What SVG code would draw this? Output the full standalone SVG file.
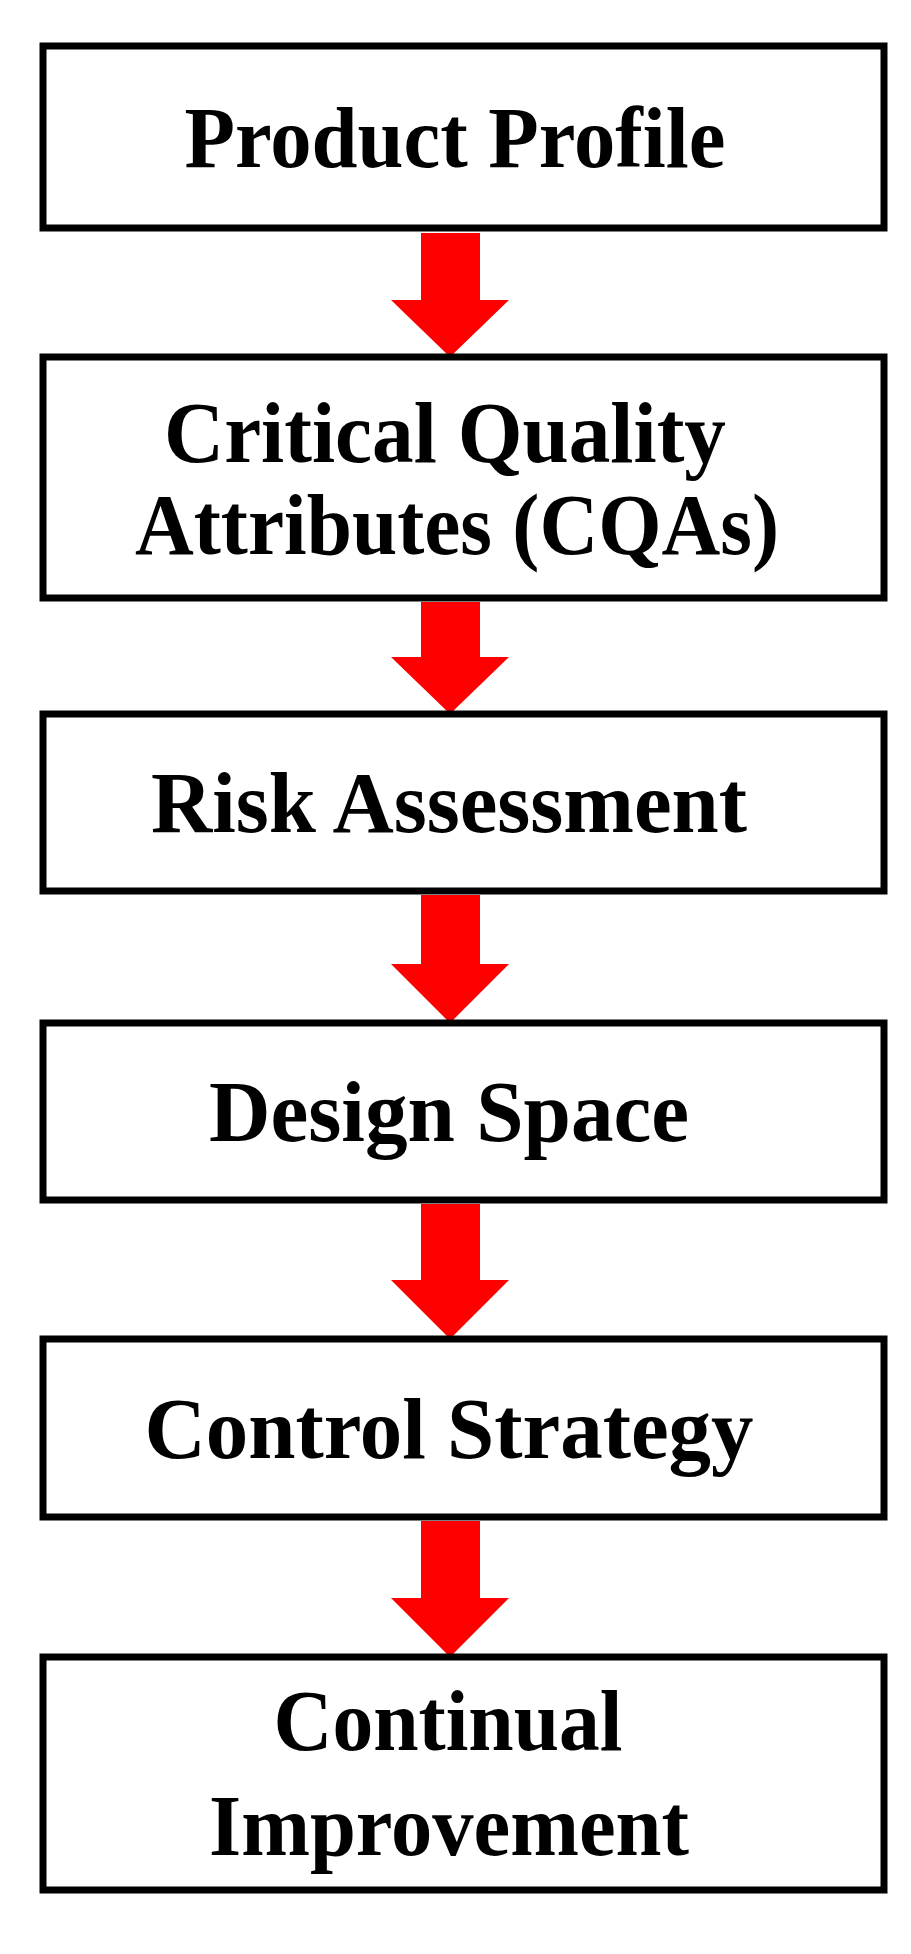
<svg xmlns="http://www.w3.org/2000/svg" width="911" height="1954" viewBox="0 0 911 1954">
<style>
.box{fill:#fff;stroke:#000;stroke-width:7}
.t{font-family:"Liberation Serif","Times New Roman",serif;font-weight:bold;font-size:86px;fill:#000;text-anchor:middle}
.arr{fill:#ff0000}
</style>
<rect width="911" height="1954" fill="#fff"/>
<g id="connectors">
<polygon class="arr" points="421,233 480,233 480,300 509,300 450,357 391,300 421,300"/>
<polygon class="arr" points="421,602 480,602 480,657 509,657 450,714 391,657 421,657"/>
<polygon class="arr" points="421,895 480,895 480,964 509,964 450,1023 391,964 421,964"/>
<polygon class="arr" points="421,1204 480,1204 480,1280 509,1280 450,1339 391,1280 421,1280"/>
<polygon class="arr" points="421,1521 480,1521 480,1598 509,1598 450,1657 391,1598 421,1598"/>
</g>
<g id="n1"><rect class="box" x="43" y="46" width="841" height="182"/><text class="t" x="455" y="167" textLength="541" lengthAdjust="spacingAndGlyphs">Product Profile</text></g>
<g id="n2"><rect class="box" x="43" y="357" width="841" height="241"/><text class="t" x="445" y="462" textLength="562" lengthAdjust="spacingAndGlyphs">Critical Quality</text><text class="t" x="457" y="554" textLength="644" lengthAdjust="spacingAndGlyphs">Attributes (CQAs)</text></g>
<g id="n3"><rect class="box" x="43" y="714" width="841" height="177"/><text class="t" x="449" y="832" textLength="596" lengthAdjust="spacingAndGlyphs">Risk Assessment</text></g>
<g id="n4"><rect class="box" x="43" y="1023" width="841" height="177"/><text class="t" x="449" y="1141" textLength="480" lengthAdjust="spacingAndGlyphs">Design Space</text></g>
<g id="n5"><rect class="box" x="43" y="1339" width="841" height="178"/><text class="t" x="449" y="1458" textLength="609" lengthAdjust="spacingAndGlyphs">Control Strategy</text></g>
<g id="n6"><rect class="box" x="43" y="1657" width="841" height="233"/><text class="t" x="448" y="1750" textLength="349" lengthAdjust="spacingAndGlyphs">Continual</text><text class="t" x="449" y="1855" textLength="480" lengthAdjust="spacingAndGlyphs">Improvement</text></g>
</svg>
